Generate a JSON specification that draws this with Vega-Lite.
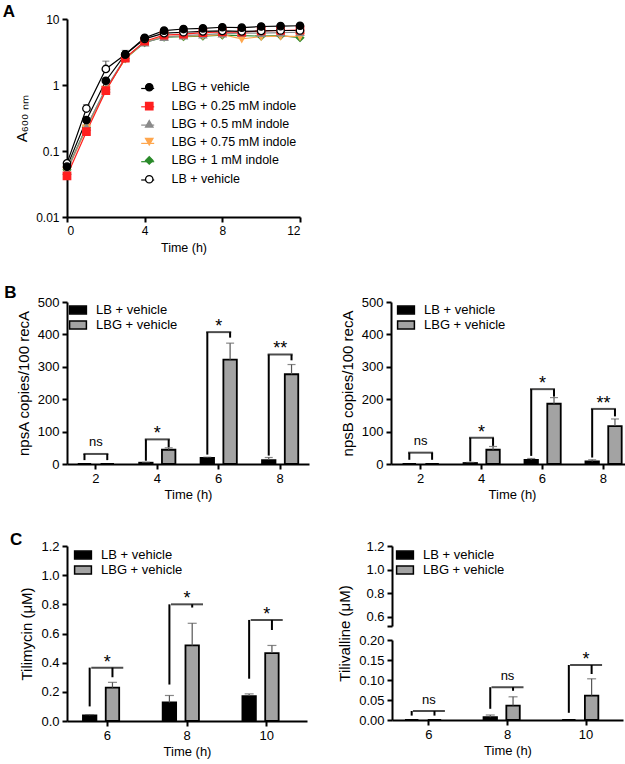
{
 "$schema": "https://vega.github.io/schema/vega-lite/v6.json",
 "background": "white",
 "padding": {"left": 2, "top": 3, "right": 2, "bottom": 2},
 "config": {
  "font": "Liberation Sans",
  "view": {"stroke": null},
  "axis": {"domainColor": "black", "domainWidth": 2, "tickColor": "black", "tickWidth": 2, "tickSize": 5, "labelColor": "black", "labelFont": "Liberation Sans", "labelFontSize": 13, "titleFont": "Liberation Sans", "titleFontSize": 13, "titleFontWeight": "normal", "titleColor": "black", "grid": false, "labelPadding": 3, "labelOverlap": false},
  "axisX": {"labelAngle": 0, "titlePadding": 3},
  "axisY": {"titlePadding": 6},
  "legend": {"labelFont": "Liberation Sans", "labelColor": "black"},
  "title": {"font": "Liberation Sans", "fontSize": 17, "fontWeight": "bold", "color": "black", "anchor": "start", "frame": "bounds"}
 },
 "datasets": {
  "growth": [
   {"t":0,"series":"LBG + 1 mM indole","od":0.052},{"t":1,"series":"LBG + 1 mM indole","od":0.23},{"t":2,"series":"LBG + 1 mM indole","od":0.86},{"t":3,"series":"LBG + 1 mM indole","od":2.5},{"t":4,"series":"LBG + 1 mM indole","od":4.4},{"t":5,"series":"LBG + 1 mM indole","od":5.3},{"t":6,"series":"LBG + 1 mM indole","od":5.4},{"t":7,"series":"LBG + 1 mM indole","od":5.5},{"t":8,"series":"LBG + 1 mM indole","od":5.7},{"t":9,"series":"LBG + 1 mM indole","od":5.6},{"t":10,"series":"LBG + 1 mM indole","od":5.5},{"t":11,"series":"LBG + 1 mM indole","od":5.6},{"t":12,"series":"LBG + 1 mM indole","od":5.2},
   {"t":0,"series":"LBG + 0.75 mM indole","od":0.05},{"t":1,"series":"LBG + 0.75 mM indole","od":0.22},{"t":2,"series":"LBG + 0.75 mM indole","od":0.85},{"t":3,"series":"LBG + 0.75 mM indole","od":2.5},{"t":4,"series":"LBG + 0.75 mM indole","od":4.5},{"t":5,"series":"LBG + 0.75 mM indole","od":5.4},{"t":6,"series":"LBG + 0.75 mM indole","od":5.5},{"t":7,"series":"LBG + 0.75 mM indole","od":5.6},{"t":8,"series":"LBG + 0.75 mM indole","od":5.8},{"t":9,"series":"LBG + 0.75 mM indole","od":5.0},{"t":10,"series":"LBG + 0.75 mM indole","od":5.4},{"t":11,"series":"LBG + 0.75 mM indole","od":5.5},{"t":12,"series":"LBG + 0.75 mM indole","od":5.4},
   {"t":0,"series":"LBG + 0.5 mM indole","od":0.05},{"t":1,"series":"LBG + 0.5 mM indole","od":0.23},{"t":2,"series":"LBG + 0.5 mM indole","od":0.88},{"t":3,"series":"LBG + 0.5 mM indole","od":2.6},{"t":4,"series":"LBG + 0.5 mM indole","od":4.4},{"t":5,"series":"LBG + 0.5 mM indole","od":5.3},{"t":6,"series":"LBG + 0.5 mM indole","od":5.6},{"t":7,"series":"LBG + 0.5 mM indole","od":5.8},{"t":8,"series":"LBG + 0.5 mM indole","od":6.0},{"t":9,"series":"LBG + 0.5 mM indole","od":6.1},{"t":10,"series":"LBG + 0.5 mM indole","od":6.1},{"t":11,"series":"LBG + 0.5 mM indole","od":6.2},{"t":12,"series":"LBG + 0.5 mM indole","od":6.3},
   {"t":0,"series":"LBG + 0.25 mM indole","od":0.042},{"t":1,"series":"LBG + 0.25 mM indole","od":0.196},{"t":2,"series":"LBG + 0.25 mM indole","od":0.82},{"t":3,"series":"LBG + 0.25 mM indole","od":2.55},{"t":4,"series":"LBG + 0.25 mM indole","od":4.6},{"t":5,"series":"LBG + 0.25 mM indole","od":5.7},{"t":6,"series":"LBG + 0.25 mM indole","od":5.9},{"t":7,"series":"LBG + 0.25 mM indole","od":6.2},{"t":8,"series":"LBG + 0.25 mM indole","od":6.4},{"t":9,"series":"LBG + 0.25 mM indole","od":6.3},{"t":10,"series":"LBG + 0.25 mM indole","od":6.6},{"t":11,"series":"LBG + 0.25 mM indole","od":6.7},{"t":12,"series":"LBG + 0.25 mM indole","od":6.8},
   {"t":0,"series":"LB + vehicle","od":0.065},{"t":1,"series":"LB + vehicle","od":0.44},{"t":2,"series":"LB + vehicle","od":1.75},{"t":3,"series":"LB + vehicle","od":2.9},{"t":4,"series":"LB + vehicle","od":5.0},{"t":5,"series":"LB + vehicle","od":6.1},{"t":6,"series":"LB + vehicle","od":6.3},{"t":7,"series":"LB + vehicle","od":6.5},{"t":8,"series":"LB + vehicle","od":6.6},{"t":9,"series":"LB + vehicle","od":6.5},{"t":10,"series":"LB + vehicle","od":6.6},{"t":11,"series":"LB + vehicle","od":6.7},{"t":12,"series":"LB + vehicle","od":6.7},
   {"t":0,"series":"LBG + vehicle","od":0.058},{"t":1,"series":"LBG + vehicle","od":0.295},{"t":2,"series":"LBG + vehicle","od":1.16},{"t":3,"series":"LBG + vehicle","od":2.9},{"t":4,"series":"LBG + vehicle","od":5.2},{"t":5,"series":"LBG + vehicle","od":6.65},{"t":6,"series":"LBG + vehicle","od":7.05},{"t":7,"series":"LBG + vehicle","od":7.2},{"t":8,"series":"LBG + vehicle","od":7.5},{"t":9,"series":"LBG + vehicle","od":7.4},{"t":10,"series":"LBG + vehicle","od":7.7},{"t":11,"series":"LBG + vehicle","od":7.8},{"t":12,"series":"LBG + vehicle","od":7.9}
  ],
  "growth_err": [
   {"t":1,"series":"LB + vehicle","od":0.44,"hi":0.5},
   {"t":2,"series":"LB + vehicle","od":1.75,"hi":2.3},
   {"t":3,"series":"LBG + vehicle","od":2.9,"hi":3.35}
  ],
  "npsA": [
   {"time":2,"group":"LB + vehicle","v":0,"hi":0},{"time":2,"group":"LBG + vehicle","v":0,"hi":0},
   {"time":4,"group":"LB + vehicle","v":4,"hi":5},{"time":4,"group":"LBG + vehicle","v":44,"hi":50},
   {"time":6,"group":"LB + vehicle","v":19,"hi":21},{"time":6,"group":"LBG + vehicle","v":322,"hi":373},
   {"time":8,"group":"LB + vehicle","v":12,"hi":20},{"time":8,"group":"LBG + vehicle","v":277,"hi":307}
  ],
  "legsA": [
   {"time":2,"group":"LB + vehicle","lo":12,"top":31},{"time":2,"group":"LBG + vehicle","lo":12,"top":31},
   {"time":4,"group":"LB + vehicle","lo":10,"top":76},{"time":4,"group":"LBG + vehicle","lo":52,"top":76},
   {"time":6,"group":"LB + vehicle","lo":29,"top":407},{"time":6,"group":"LBG + vehicle","lo":390,"top":407},
   {"time":8,"group":"LB + vehicle","lo":26,"top":338},{"time":8,"group":"LBG + vehicle","lo":320,"top":338}
  ],
  "sigA": [
   {"time":2,"top":31,"label":"ns"},{"time":4,"top":76,"label":"*"},{"time":6,"top":407,"label":"*"},{"time":8,"top":338,"label":"**"}
  ],
  "npsB": [
   {"time":2,"group":"LB + vehicle","v":0,"hi":0},{"time":2,"group":"LBG + vehicle","v":0,"hi":0},
   {"time":4,"group":"LB + vehicle","v":3,"hi":5},{"time":4,"group":"LBG + vehicle","v":44,"hi":54},
   {"time":6,"group":"LB + vehicle","v":13,"hi":17},{"time":6,"group":"LBG + vehicle","v":186,"hi":205},
   {"time":8,"group":"LB + vehicle","v":8,"hi":13},{"time":8,"group":"LBG + vehicle","v":117,"hi":139}
  ],
  "legsB": [
   {"time":2,"group":"LB + vehicle","lo":13,"top":35},{"time":2,"group":"LBG + vehicle","lo":13,"top":35},
   {"time":4,"group":"LB + vehicle","lo":8,"top":81},{"time":4,"group":"LBG + vehicle","lo":56,"top":81},
   {"time":6,"group":"LB + vehicle","lo":25,"top":231},{"time":6,"group":"LBG + vehicle","lo":208,"top":231},
   {"time":8,"group":"LB + vehicle","lo":20,"top":170},{"time":8,"group":"LBG + vehicle","lo":147,"top":170}
  ],
  "sigB": [
   {"time":2,"top":35,"label":"ns"},{"time":4,"top":81,"label":"*"},{"time":6,"top":231,"label":"*"},{"time":8,"top":170,"label":"**"}
  ],
  "tim": [
   {"time":6,"group":"LB + vehicle","v":0.039,"hi":0.044},{"time":6,"group":"LBG + vehicle","v":0.229,"hi":0.265},
   {"time":8,"group":"LB + vehicle","v":0.127,"hi":0.175},{"time":8,"group":"LBG + vehicle","v":0.518,"hi":0.67},
   {"time":10,"group":"LB + vehicle","v":0.171,"hi":0.186},{"time":10,"group":"LBG + vehicle","v":0.466,"hi":0.518}
  ],
  "legsC": [
   {"time":6,"group":"LB + vehicle","lo":0.1,"top":0.366},{"time":6,"group":"LBG + vehicle","lo":0.3,"top":0.366},
   {"time":8,"group":"LB + vehicle","lo":0.25,"top":0.8},{"time":8,"group":"LBG + vehicle","lo":0.778,"top":0.8},
   {"time":10,"group":"LB + vehicle","lo":0.29,"top":0.693},{"time":10,"group":"LBG + vehicle","lo":0.624,"top":0.693}
  ],
  "sigC": [
   {"time":6,"top":0.366,"label":"*"},{"time":8,"top":0.8,"label":"*"},{"time":10,"top":0.693,"label":"*"}
  ],
  "tiv": [
   {"time":6,"group":"LB + vehicle","v":0,"hi":0},{"time":6,"group":"LBG + vehicle","v":0,"hi":0},
   {"time":8,"group":"LB + vehicle","v":0.007,"hi":0.0125},{"time":8,"group":"LBG + vehicle","v":0.036,"hi":0.058},
   {"time":10,"group":"LB + vehicle","v":0,"hi":0},{"time":10,"group":"LBG + vehicle","v":0.061,"hi":0.103}
  ],
  "legsV": [
   {"time":6,"group":"LB + vehicle","lo":0.011,"top":0.0225},{"time":6,"group":"LBG + vehicle","lo":0.011,"top":0.0225},
   {"time":8,"group":"LB + vehicle","lo":0.028,"top":0.082},{"time":8,"group":"LBG + vehicle","lo":0.073,"top":0.082},
   {"time":10,"group":"LB + vehicle","lo":0.018,"top":0.1375},{"time":10,"group":"LBG + vehicle","lo":0.115,"top":0.1375}
  ],
  "sigV": [
   {"time":6,"top":0.0225,"label":"ns"},{"time":8,"top":0.082,"label":"ns"},{"time":10,"top":0.1375,"label":"*"}
  ]
 },
 "spacing": 30,
 "resolve": {"scale": {"color": "independent", "stroke": "independent", "fill": "independent", "shape": "independent"}},
 "vconcat": [
  {
   "title": {"text": "A", "offset": -8, "dx": -12},
   "width": 233, "height": 198,
   "layer": [
    {"data": {"name": "growth"}, "mark": {"type": "line", "strokeWidth": 1.2},
     "encoding": {
      "x": {"field": "t", "type": "quantitative", "scale": {"domain": [0, 12], "nice": false}, "axis": {"values": [0, 4, 8, 12], "title": "Time (h)", "labelFontSize": 12, "titleFontSize": 12.5, "titlePadding": 5}},
      "y": {"field": "od", "type": "quantitative", "scale": {"type": "log", "domain": [0.01, 10]}, "axis": {"values": [0.01, 0.1, 1, 10], "format": "~g", "title": "A₆₀₀ ₙₘ", "labelFontSize": 12, "titleFontSize": 15}},
      "color": {"field": "series", "type": "nominal", "scale": {"domain": ["LBG + vehicle", "LBG + 0.25 mM indole", "LBG + 0.5 mM indole", "LBG + 0.75 mM indole", "LBG + 1 mM indole", "LB + vehicle", " "], "range": ["black", "#ff1f1f", "#8a8a8a", "#ffa64d", "#2a8a2a", "black", "transparent"]}, "legend": {"title": null, "orient": "none", "legendX": 73.2, "legendY": 62, "padding": 0, "labelFontSize": 12.5, "labelExpr": "''", "symbolType": "stroke", "symbolSize": 169, "symbolStrokeWidth": 1.2, "rowPadding": 4.3, "labelOffset": 13}}
     }},
    {"data": {"name": "growth_err"}, "mark": {"type": "rule", "color": "#444", "strokeWidth": 1},
     "encoding": {"x": {"field": "t", "type": "quantitative"}, "y": {"field": "od", "type": "quantitative"}, "y2": {"field": "hi"}}},
    {"data": {"name": "growth_err"}, "mark": {"type": "tick", "orient": "horizontal", "color": "#444", "thickness": 1, "size": 7},
     "encoding": {"x": {"field": "t", "type": "quantitative"}, "y": {"field": "hi", "type": "quantitative"}}},
    {"data": {"name": "growth"}, "mark": {"type": "point", "size": 55, "strokeWidth": 1.3, "opacity": 1},
     "encoding": {
      "x": {"field": "t", "type": "quantitative"},
      "y": {"field": "od", "type": "quantitative"},
      "stroke": {"field": "series", "type": "nominal", "scale": {"domain": ["LBG + vehicle", "LBG + 0.25 mM indole", "LBG + 0.5 mM indole", "LBG + 0.75 mM indole", "LBG + 1 mM indole", "LB + vehicle"], "range": ["black", "#ff1f1f", "#8a8a8a", "#ffa64d", "#2a8a2a", "black"]}, "legend": {"title": null, "orient": "none", "legendX": 76, "legendY": 62, "padding": 0, "labelFontSize": 12.5, "symbolSize": 55, "rowPadding": 4.8, "labelOffset": 16, "symbolStrokeWidth": 1.3}},
      "fill": {"field": "series", "type": "nominal", "scale": {"domain": ["LBG + vehicle", "LBG + 0.25 mM indole", "LBG + 0.5 mM indole", "LBG + 0.75 mM indole", "LBG + 1 mM indole", "LB + vehicle"], "range": ["black", "#ff1f1f", "#8a8a8a", "#ffa64d", "#2a8a2a", "white"]}, "legend": {"title": null, "orient": "none", "legendX": 76, "legendY": 62, "padding": 0, "labelFontSize": 12.5, "symbolSize": 55, "rowPadding": 4.8, "labelOffset": 16, "symbolStrokeWidth": 1.3}},
      "shape": {"field": "series", "type": "nominal", "scale": {"domain": ["LBG + vehicle", "LBG + 0.25 mM indole", "LBG + 0.5 mM indole", "LBG + 0.75 mM indole", "LBG + 1 mM indole", "LB + vehicle"], "range": ["circle", "square", "triangle-up", "triangle-down", "diamond", "circle"]}, "legend": {"title": null, "orient": "none", "legendX": 76, "legendY": 62, "padding": 0, "labelFontSize": 12.5, "symbolSize": 55, "rowPadding": 4.8, "labelOffset": 16, "symbolStrokeWidth": 1.3}}
     }}
   ]
  },
  {
   "title": {"text": "B", "offset": -6, "dx": -12},
   "spacing": 31,
   "resolve": {"scale": {"color": "independent"}},
   "hconcat": [
    {
     "width": 242, "height": 162,
     "layer": [
      {"data": {"name": "npsA"}, "mark": {"type": "bar", "stroke": "black", "strokeWidth": 1.8},
       "encoding": {
        "x": {"field": "time", "type": "ordinal", "scale": {"paddingInner": 0.41, "paddingOuter": 0.175}, "axis": {"title": "Time (h)"}},
        "xOffset": {"field": "group", "type": "nominal", "scale": {"domain": ["LB + vehicle", "LBG + vehicle"], "paddingInner": 0.41, "paddingOuter": 0}},
        "y": {"field": "v", "type": "quantitative", "scale": {"domain": [0, 500]}, "axis": {"title": "npsA copies/100 recA", "values": [0, 100, 200, 300, 400, 500], "titleFontSize": 15}},
        "color": {"field": "group", "type": "nominal", "scale": {"domain": ["LB + vehicle", "LBG + vehicle"], "range": ["black", "#a3a3a3"]}, "legend": {"title": null, "orient": "none", "legendX": 4, "legendY": 1, "padding": 0, "labelFontSize": 13, "symbolType": "M-1.4,-0.65H1.4V0.65H-1.4Z", "symbolSize": 144, "labelOffset": 11, "rowPadding": 1, "symbolStrokeColor": "black", "symbolStrokeWidth": 1.5}}
       }},
      {"data": {"name": "npsA"}, "transform": [{"filter": "datum.hi > datum.v"}], "mark": {"type": "rule", "color": "#555", "strokeWidth": 1.2},
       "encoding": {"x": {"field": "time", "type": "ordinal"}, "xOffset": {"field": "group", "type": "nominal"}, "y": {"field": "v", "type": "quantitative", "axis": {"title": "npsA copies/100 recA", "values": [0, 100, 200, 300, 400, 500], "titleFontSize": 15}}, "y2": {"field": "hi"}}},
      {"data": {"name": "npsA"}, "transform": [{"filter": "datum.hi > datum.v"}], "mark": {"type": "tick", "orient": "horizontal", "color": "#555", "thickness": 1.2, "size": 8},
       "encoding": {"x": {"field": "time", "type": "ordinal"}, "xOffset": {"field": "group", "type": "nominal"}, "y": {"field": "hi", "type": "quantitative", "axis": {"title": "npsA copies/100 recA", "values": [0, 100, 200, 300, 400, 500], "titleFontSize": 15}}}},
      {"data": {"name": "legsA"}, "mark": {"type": "rule", "color": "black", "strokeWidth": 2},
       "encoding": {"x": {"field": "time", "type": "ordinal"}, "xOffset": {"field": "group", "type": "nominal"}, "y": {"field": "lo", "type": "quantitative", "axis": {"title": "npsA copies/100 recA", "values": [0, 100, 200, 300, 400, 500], "titleFontSize": 15}}, "y2": {"field": "top"}}},
      {"data": {"name": "sigA"}, "mark": {"type": "tick", "orient": "horizontal", "color": "black", "thickness": 2, "size": 25},
       "encoding": {"x": {"field": "time", "type": "ordinal"}, "y": {"field": "top", "type": "quantitative", "axis": {"title": "npsA copies/100 recA", "values": [0, 100, 200, 300, 400, 500], "titleFontSize": 15}}}},
      {"data": {"name": "sigA"}, "transform": [{"filter": "datum.label === 'ns'"}], "mark": {"type": "text", "fontSize": 13, "dy": -7.5, "baseline": "alphabetic", "color": "black"},
       "encoding": {"x": {"field": "time", "type": "ordinal"}, "y": {"field": "top", "type": "quantitative", "axis": {"title": "npsA copies/100 recA", "values": [0, 100, 200, 300, 400, 500], "titleFontSize": 15}}, "text": {"field": "label"}}},
      {"data": {"name": "sigA"}, "transform": [{"filter": "datum.label !== 'ns'"}], "mark": {"type": "text", "fontSize": 18, "dy": 0, "baseline": "alphabetic", "color": "black"},
       "encoding": {"x": {"field": "time", "type": "ordinal"}, "y": {"field": "top", "type": "quantitative", "axis": {"title": "npsA copies/100 recA", "values": [0, 100, 200, 300, 400, 500], "titleFontSize": 15}}, "text": {"field": "label"}}}
     ]
    },
    {
     "width": 242, "height": 162,
     "layer": [
      {"data": {"name": "npsB"}, "mark": {"type": "bar", "stroke": "black", "strokeWidth": 1.8},
       "encoding": {
        "x": {"field": "time", "type": "ordinal", "scale": {"paddingInner": 0.41, "paddingOuter": 0.19}, "axis": {"title": "Time (h)"}},
        "xOffset": {"field": "group", "type": "nominal", "scale": {"domain": ["LB + vehicle", "LBG + vehicle"], "paddingInner": 0.41, "paddingOuter": 0}},
        "y": {"field": "v", "type": "quantitative", "scale": {"domain": [0, 500]}, "axis": {"title": "npsB copies/100 recA", "values": [0, 100, 200, 300, 400, 500], "titleFontSize": 15}},
        "color": {"field": "group", "type": "nominal", "scale": {"domain": ["LB + vehicle", "LBG + vehicle"], "range": ["black", "#a3a3a3"]}, "legend": {"title": null, "orient": "none", "legendX": 8, "legendY": 1, "padding": 0, "labelFontSize": 13, "symbolType": "M-1.4,-0.65H1.4V0.65H-1.4Z", "symbolSize": 144, "labelOffset": 11, "rowPadding": 1, "symbolStrokeColor": "black", "symbolStrokeWidth": 1.5}}
       }},
      {"data": {"name": "npsB"}, "transform": [{"filter": "datum.hi > datum.v"}], "mark": {"type": "rule", "color": "#555", "strokeWidth": 1.2},
       "encoding": {"x": {"field": "time", "type": "ordinal"}, "xOffset": {"field": "group", "type": "nominal"}, "y": {"field": "v", "type": "quantitative", "axis": {"title": "npsB copies/100 recA", "values": [0, 100, 200, 300, 400, 500], "titleFontSize": 15}}, "y2": {"field": "hi"}}},
      {"data": {"name": "npsB"}, "transform": [{"filter": "datum.hi > datum.v"}], "mark": {"type": "tick", "orient": "horizontal", "color": "#555", "thickness": 1.2, "size": 8},
       "encoding": {"x": {"field": "time", "type": "ordinal"}, "xOffset": {"field": "group", "type": "nominal"}, "y": {"field": "hi", "type": "quantitative", "axis": {"title": "npsB copies/100 recA", "values": [0, 100, 200, 300, 400, 500], "titleFontSize": 15}}}},
      {"data": {"name": "legsB"}, "mark": {"type": "rule", "color": "black", "strokeWidth": 2},
       "encoding": {"x": {"field": "time", "type": "ordinal"}, "xOffset": {"field": "group", "type": "nominal"}, "y": {"field": "lo", "type": "quantitative", "axis": {"title": "npsB copies/100 recA", "values": [0, 100, 200, 300, 400, 500], "titleFontSize": 15}}, "y2": {"field": "top"}}},
      {"data": {"name": "sigB"}, "mark": {"type": "tick", "orient": "horizontal", "color": "black", "thickness": 2, "size": 25},
       "encoding": {"x": {"field": "time", "type": "ordinal"}, "y": {"field": "top", "type": "quantitative", "axis": {"title": "npsB copies/100 recA", "values": [0, 100, 200, 300, 400, 500], "titleFontSize": 15}}}},
      {"data": {"name": "sigB"}, "transform": [{"filter": "datum.label === 'ns'"}], "mark": {"type": "text", "fontSize": 13, "dy": -7.5, "baseline": "alphabetic", "color": "black"},
       "encoding": {"x": {"field": "time", "type": "ordinal"}, "y": {"field": "top", "type": "quantitative", "axis": {"title": "npsB copies/100 recA", "values": [0, 100, 200, 300, 400, 500], "titleFontSize": 15}}, "text": {"field": "label"}}},
      {"data": {"name": "sigB"}, "transform": [{"filter": "datum.label !== 'ns'"}], "mark": {"type": "text", "fontSize": 18, "dy": 0, "baseline": "alphabetic", "color": "black"},
       "encoding": {"x": {"field": "time", "type": "ordinal"}, "y": {"field": "top", "type": "quantitative", "axis": {"title": "npsB copies/100 recA", "values": [0, 100, 200, 300, 400, 500], "titleFontSize": 15}}, "text": {"field": "label"}}}
     ]
    }
   ]
  },
  {
   "title": {"text": "C", "offset": -9, "dx": -10},
   "spacing": 30,
   "resolve": {"scale": {"color": "independent"}},
   "hconcat": [
    {
     "width": 240, "height": 175,
     "layer": [
      {"data": {"name": "tim"}, "mark": {"type": "bar", "stroke": "black", "strokeWidth": 1.8},
       "encoding": {
        "x": {"field": "time", "type": "ordinal", "scale": {"paddingInner": 0.39, "paddingOuter": 0.2}, "axis": {"title": "Time (h)"}},
        "xOffset": {"field": "group", "type": "nominal", "scale": {"domain": ["LB + vehicle", "LBG + vehicle"], "paddingInner": 0.37, "paddingOuter": 0}},
        "y": {"field": "v", "type": "quantitative", "scale": {"domain": [0, 1.2]}, "axis": {"title": "Tilimycin (μM)", "values": [0, 0.2, 0.4, 0.6, 0.8, 1.0, 1.2], "format": ".1f", "titleFontSize": 15}},
        "color": {"field": "group", "type": "nominal", "scale": {"domain": ["LB + vehicle", "LBG + vehicle"], "range": ["black", "#a3a3a3"]}, "legend": {"title": null, "orient": "none", "legendX": 9, "legendY": 2, "padding": 0, "labelFontSize": 13, "symbolType": "M-1.4,-0.65H1.4V0.65H-1.4Z", "symbolSize": 144, "labelOffset": 11, "rowPadding": 1, "symbolStrokeColor": "black", "symbolStrokeWidth": 1.5}}
       }},
      {"data": {"name": "tim"}, "transform": [{"filter": "datum.hi > datum.v"}], "mark": {"type": "rule", "color": "#555", "strokeWidth": 1.2},
       "encoding": {"x": {"field": "time", "type": "ordinal"}, "xOffset": {"field": "group", "type": "nominal"}, "y": {"field": "v", "type": "quantitative", "axis": {"title": "Tilimycin (μM)", "values": [0, 0.2, 0.4, 0.6, 0.8, 1.0, 1.2], "format": ".1f", "titleFontSize": 15}}, "y2": {"field": "hi"}}},
      {"data": {"name": "tim"}, "transform": [{"filter": "datum.hi > datum.v"}], "mark": {"type": "tick", "orient": "horizontal", "color": "#555", "thickness": 1.2, "size": 9},
       "encoding": {"x": {"field": "time", "type": "ordinal"}, "xOffset": {"field": "group", "type": "nominal"}, "y": {"field": "hi", "type": "quantitative", "axis": {"title": "Tilimycin (μM)", "values": [0, 0.2, 0.4, 0.6, 0.8, 1.0, 1.2], "format": ".1f", "titleFontSize": 15}}}},
      {"data": {"name": "legsC"}, "mark": {"type": "rule", "color": "black", "strokeWidth": 2},
       "encoding": {"x": {"field": "time", "type": "ordinal"}, "xOffset": {"field": "group", "type": "nominal"}, "y": {"field": "lo", "type": "quantitative", "axis": {"title": "Tilimycin (μM)", "values": [0, 0.2, 0.4, 0.6, 0.8, 1.0, 1.2], "format": ".1f", "titleFontSize": 15}}, "y2": {"field": "top"}}},
      {"data": {"name": "sigC"}, "mark": {"type": "tick", "orient": "horizontal", "color": "black", "thickness": 2, "size": 32},
       "encoding": {"x": {"field": "time", "type": "ordinal"}, "y": {"field": "top", "type": "quantitative", "axis": {"title": "Tilimycin (μM)", "values": [0, 0.2, 0.4, 0.6, 0.8, 1.0, 1.2], "format": ".1f", "titleFontSize": 15}}}},
      {"data": {"name": "sigC"}, "mark": {"type": "text", "fontSize": 18, "dy": 0, "baseline": "alphabetic", "color": "black"},
       "encoding": {"x": {"field": "time", "type": "ordinal"}, "y": {"field": "top", "type": "quantitative", "axis": {"title": "Tilimycin (μM)", "values": [0, 0.2, 0.4, 0.6, 0.8, 1.0, 1.2], "format": ".1f", "titleFontSize": 15}}, "text": {"field": "label"}}}
     ]
    },
    {
     "spacing": 14,
     "bounds": "flush",
     "resolve": {"scale": {"color": "independent"}},
     "vconcat": [
      {
       "width": 231, "height": 80,
       "data": {"name": "tiv"},
       "mark": {"type": "bar", "clip": true, "stroke": "black", "strokeWidth": 1.8},
       "encoding": {
        "x": {"field": "time", "type": "ordinal", "scale": {"paddingInner": 0.39, "paddingOuter": 0.165}, "axis": null},
        "xOffset": {"field": "group", "type": "nominal", "scale": {"domain": ["LB + vehicle", "LBG + vehicle"], "paddingInner": 0.4, "paddingOuter": 0}},
        "y": {"field": "v", "type": "quantitative", "scale": {"domain": [0.52, 1.2]}, "axis": {"title": null, "values": [0.52, 0.6, 0.8, 1.0, 1.2], "labelExpr": "datum.value < 0.55 ? '' : format(datum.value, '.1f')"}},
        "color": {"field": "group", "type": "nominal", "scale": {"domain": ["LB + vehicle", "LBG + vehicle"], "range": ["black", "#a3a3a3"]}, "legend": {"title": null, "orient": "none", "legendX": 6, "legendY": 2, "padding": 0, "labelFontSize": 13, "symbolType": "M-1.4,-0.65H1.4V0.65H-1.4Z", "symbolSize": 144, "labelOffset": 11, "rowPadding": 1, "symbolStrokeColor": "black", "symbolStrokeWidth": 1.5}}
       }
      },
      {
       "width": 231, "height": 80,
       "layer": [
        {"data": {"name": "tiv"}, "mark": {"type": "bar", "stroke": "black", "strokeWidth": 1.8},
         "encoding": {
          "x": {"field": "time", "type": "ordinal", "scale": {"paddingInner": 0.39, "paddingOuter": 0.165}, "axis": {"title": "Time (h)"}},
          "xOffset": {"field": "group", "type": "nominal", "scale": {"domain": ["LB + vehicle", "LBG + vehicle"], "paddingInner": 0.4, "paddingOuter": 0}},
          "y": {"field": "v", "type": "quantitative", "scale": {"domain": [0, 0.2]}, "axis": {"title": "Tilivalline (μM)", "values": [0, 0.05, 0.1, 0.15, 0.2], "format": ".2f", "titleFontSize": 15, "titleY": -7}},
          "color": {"field": "group", "type": "nominal", "scale": {"domain": ["LB + vehicle", "LBG + vehicle"], "range": ["black", "#a3a3a3"]}, "legend": null}
         }},
        {"data": {"name": "tiv"}, "transform": [{"filter": "datum.hi > datum.v"}], "mark": {"type": "rule", "color": "#555", "strokeWidth": 1.2},
         "encoding": {"x": {"field": "time", "type": "ordinal"}, "xOffset": {"field": "group", "type": "nominal"}, "y": {"field": "v", "type": "quantitative", "axis": {"title": "Tilivalline (μM)", "values": [0, 0.05, 0.1, 0.15, 0.2], "format": ".2f", "titleFontSize": 15, "titleY": -7}}, "y2": {"field": "hi"}}},
        {"data": {"name": "tiv"}, "transform": [{"filter": "datum.hi > datum.v"}], "mark": {"type": "tick", "orient": "horizontal", "color": "#555", "thickness": 1.2, "size": 9},
         "encoding": {"x": {"field": "time", "type": "ordinal"}, "xOffset": {"field": "group", "type": "nominal"}, "y": {"field": "hi", "type": "quantitative", "axis": {"title": "Tilivalline (μM)", "values": [0, 0.05, 0.1, 0.15, 0.2], "format": ".2f", "titleFontSize": 15, "titleY": -7}}}},
        {"data": {"name": "legsV"}, "mark": {"type": "rule", "color": "black", "strokeWidth": 2},
         "encoding": {"x": {"field": "time", "type": "ordinal"}, "xOffset": {"field": "group", "type": "nominal"}, "y": {"field": "lo", "type": "quantitative", "axis": {"title": "Tilivalline (μM)", "values": [0, 0.05, 0.1, 0.15, 0.2], "format": ".2f", "titleFontSize": 15, "titleY": -7}}, "y2": {"field": "top"}}},
        {"data": {"name": "sigV"}, "mark": {"type": "tick", "orient": "horizontal", "color": "black", "thickness": 2, "size": 32},
         "encoding": {"x": {"field": "time", "type": "ordinal"}, "y": {"field": "top", "type": "quantitative", "axis": {"title": "Tilivalline (μM)", "values": [0, 0.05, 0.1, 0.15, 0.2], "format": ".2f", "titleFontSize": 15, "titleY": -7}}}},
        {"data": {"name": "sigV"}, "transform": [{"filter": "datum.label === 'ns'"}], "mark": {"type": "text", "fontSize": 13, "dy": -7.5, "baseline": "alphabetic", "color": "black"},
         "encoding": {"x": {"field": "time", "type": "ordinal"}, "y": {"field": "top", "type": "quantitative", "axis": {"title": "Tilivalline (μM)", "values": [0, 0.05, 0.1, 0.15, 0.2], "format": ".2f", "titleFontSize": 15, "titleY": -7}}, "text": {"field": "label"}}},
        {"data": {"name": "sigV"}, "transform": [{"filter": "datum.label !== 'ns'"}], "mark": {"type": "text", "fontSize": 18, "dy": 0, "baseline": "alphabetic", "color": "black"},
         "encoding": {"x": {"field": "time", "type": "ordinal"}, "y": {"field": "top", "type": "quantitative", "axis": {"title": "Tilivalline (μM)", "values": [0, 0.05, 0.1, 0.15, 0.2], "format": ".2f", "titleFontSize": 15, "titleY": -7}}, "text": {"field": "label"}}}
       ]
      }
     ]
    }
   ]
  }
 ]
}
